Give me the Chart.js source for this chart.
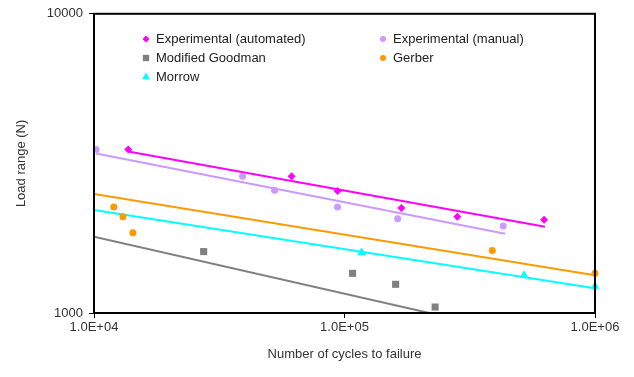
<!DOCTYPE html>
<html>
<head>
<meta charset="utf-8">
<script src="https://cdn.jsdelivr.net/npm/chart.js@4/dist/chart.umd.min.js"></script>
<style>
    body { margin: 0; background: #fff; }
    #wrap { width: 634px; height: 377px; }
</style>
</head>
<body>
<div id="wrap"><canvas id="chart" width="634" height="377"></canvas></div>
<script>
// values (cycles to failure, load range in N)
let automatedCycles = [13700, 61500, 93800, 168700, 282000, 626000];
let automatedLoad = [3518, 2864, 2555, 2244, 2096, 2048];
let manualCycles = [10200, 39200, 52600, 93800, 163000, 430000];
let manualLoad = [3518, 2864, 2574, 2261, 2064, 1955];
let goodmanCycles = [27400, 107700, 160000, 230000];
let goodmanLoad = [1604, 1357, 1247, 1047];
let gerberCycles = [12000, 13050, 14300, 389000, 1000000];
let gerberLoad = [2261, 2096, 1854, 1617, 1357];
let morrowCycles = [117000, 521000, 1000000];
let morrowLoad = [1592, 1336, 1229];

// trend lines, end points only
let automatedFitCycles = [13700, 632000];
let automatedFitLoad = [3464, 1941];
let manualFitCycles = [10200, 438000];
let manualFitLoad = [3412, 1840];
let goodmanFitCycles = [10000, 218000];
let goodmanFitLoad = [1798, 1000];
let gerberFitCycles = [10000, 1000000];
let gerberFitLoad = [2497, 1336];
let morrowFitCycles = [10000, 1000000];
let morrowFitLoad = [2209, 1210];

let xTicks = [10000, 100000, 1000000];
let yTicks = [1000, 10000];

const FONT = '"Liberation Sans", Arial, sans-serif';

function pairs(xs, ys) {
    return xs.map((x, i) => ({ x: x, y: ys[i] }));
}

function pointSet(label, xs, ys, color, style, radius) {
    return {
        type: 'scatter',
        label: label,
        data: pairs(xs, ys),
        backgroundColor: color,
        borderColor: color,
        pointStyle: style,
        pointRadius: radius,
        borderWidth: 0,
        clip: false,
        inLegend: true
    };
}

function lineSet(xs, ys, color) {
    return {
        type: 'line',
        label: '',
        data: pairs(xs, ys),
        borderColor: color,
        borderWidth: 2,
        pointRadius: 0,
        fill: false
    };
}

let legendSpots = [
    { x: 146, y: 39 },
    { x: 383, y: 39 },
    { x: 146, y: 58 },
    { x: 383, y: 58 },
    { x: 146, y: 77 }
];

const frameAndLegend = {
    id: 'frameAndLegend',
    afterDraw(chart) {
        let ctx = chart.ctx;
        let a = chart.chartArea;
        ctx.save();
        ctx.strokeStyle = '#000';
        ctx.lineWidth = 2;
        ctx.strokeRect(a.left, a.top, a.right - a.left, a.bottom - a.top);

        let items = chart.data.datasets.filter(d => d.inLegend);
        ctx.font = '13px ' + FONT;
        ctx.textBaseline = 'middle';
        items.forEach((d, i) => {
            let spot = legendSpots[i];
            ctx.fillStyle = d.backgroundColor;
            ctx.strokeStyle = d.backgroundColor;
            Chart.helpers.drawPoint(ctx, {
                pointStyle: d.pointStyle,
                radius: d.pointRadius - 0.5,
                rotation: 0,
                borderWidth: 0
            }, spot.x, spot.y);
            ctx.fillStyle = '#222';
            ctx.fillText(d.label, spot.x + 10, spot.y);
        });
        ctx.restore();
    }
};

let chart = new Chart(document.getElementById('chart').getContext('2d'), {
    type: 'scatter',
    data: {
        datasets: [
            pointSet('Experimental (automated)', automatedCycles, automatedLoad, '#FF00FF', 'rectRot', 4),
            pointSet('Experimental (manual)', manualCycles, manualLoad, '#CC99FF', 'circle', 3.5),
            pointSet('Modified Goodman', goodmanCycles, goodmanLoad, '#808080', 'rect', 5),
            pointSet('Gerber', gerberCycles, gerberLoad, '#FF9900', 'circle', 3.5),
            pointSet('Morrow', morrowCycles, morrowLoad, '#00FFFF', 'triangle', 5),
            lineSet(automatedFitCycles, automatedFitLoad, '#FF00FF'),
            lineSet(manualFitCycles, manualFitLoad, '#CC99FF'),
            lineSet(goodmanFitCycles, goodmanFitLoad, '#808080'),
            lineSet(gerberFitCycles, gerberFitLoad, '#FF9900'),
            lineSet(morrowFitCycles, morrowFitLoad, '#00FFFF')
        ]
    },
    options: {
        responsive: false,
        animation: false,
        layout: { padding: { top: 12, right: 39, left: 0, bottom: 0 } },
        plugins: {
            legend: { display: false },
            tooltip: { enabled: false }
        },
        scales: {
            x: {
                type: 'logarithmic',
                min: 10000,
                max: 1000000,
                afterBuildTicks: scale => { scale.ticks = xTicks.map(v => ({ value: v })); },
                afterFit: scale => { scale.height = 64; },
                ticks: {
                    callback: v => Number(v).toExponential(1).toUpperCase().replace(/E\+(\d)$/, 'E+0$1'),
                    color: '#333',
                    font: { size: 13, family: FONT },
                    padding: 2,
                    maxRotation: 0
                },
                grid: { drawOnChartArea: false, drawTicks: true, tickLength: 5, color: '#000' },
                border: { display: true, color: '#000', width: 2 },
                title: {
                    display: true,
                    text: 'Number of cycles to failure',
                    color: '#333',
                    font: { size: 13, family: FONT },
                    padding: { top: 0, bottom: 15 }
                }
            },
            y: {
                type: 'logarithmic',
                min: 1000,
                max: 10000,
                afterBuildTicks: scale => { scale.ticks = yTicks.map(v => ({ value: v })); },
                afterFit: scale => { scale.width = 94; },
                ticks: {
                    callback: v => String(v),
                    color: '#333',
                    font: { size: 13, family: FONT },
                    padding: 6
                },
                grid: { drawOnChartArea: false, drawTicks: true, tickLength: 5, color: '#000' },
                border: { display: true, color: '#000', width: 2 },
                title: {
                    display: true,
                    text: 'Load range (N)',
                    color: '#333',
                    font: { size: 13, family: FONT },
                    padding: { top: 14, bottom: 0 }
                }
            }
        }
    },
    plugins: [frameAndLegend]
});
</script>
</body>
</html>
